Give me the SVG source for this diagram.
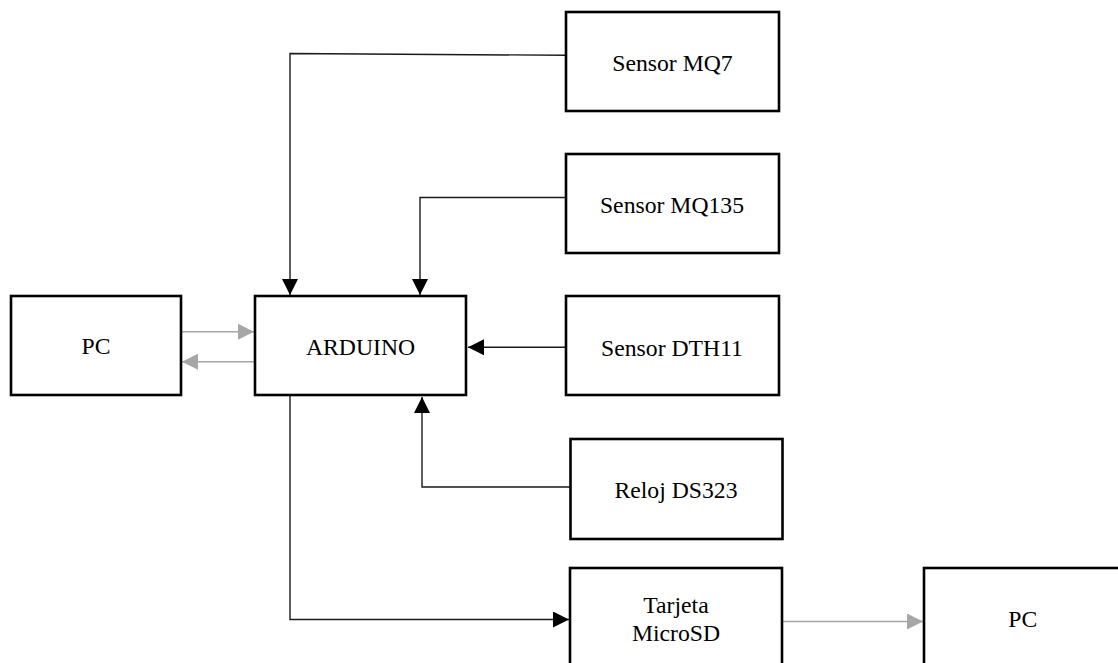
<svg xmlns="http://www.w3.org/2000/svg" width="1118" height="663" viewBox="0 0 1118 663">
<style>
.box{fill:#fff;stroke:#000;stroke-width:2.6}
.lbl{font-family:'Liberation Serif','DejaVu Serif',serif;font-size:23.7px;fill:#000;text-anchor:middle}
.c{fill:none;stroke:#1a1a1a;stroke-width:1.4}
.g{fill:none;stroke:#a6a6a6;stroke-width:1.6}
</style>
<defs>
<marker id="ab" markerUnits="userSpaceOnUse" markerWidth="16" markerHeight="16" refX="16" refY="8" orient="auto"><path d="M0,0 L16,8 L0,16 Z" fill="#000"/></marker>
<marker id="ag" markerUnits="userSpaceOnUse" markerWidth="16" markerHeight="16" refX="16" refY="8" orient="auto"><path d="M0,0 L16,8 L0,16 Z" fill="#a6a6a6"/></marker>
</defs>
<rect width="1118" height="663" fill="#fff"/>
<g id="connectors">
<polyline class="c" points="566,55.3 290,53.5 290,295" marker-end="url(#ab)"/>
<polyline class="c" points="566,197.5 420,197.5 420,295" marker-end="url(#ab)"/>
<polyline class="c" points="566,347.3 468,347.3" marker-end="url(#ab)"/>
<polyline class="c" points="570,487 422,487 422,397" marker-end="url(#ab)"/>
<polyline class="c" points="290,396 290,619.5 569,619.5" marker-end="url(#ab)"/>
<polyline class="g" points="783,621.5 923,621.5" marker-end="url(#ag)"/>
<polyline class="g" points="182,331.7 254,331.7" marker-end="url(#ag)"/>
<polyline class="g" points="254,361.7 182,361.7" marker-end="url(#ag)"/>
</g>
<g id="pc-left"><rect class="box" x="11" y="296" width="170" height="99"/><text class="lbl" font-family="Liberation Serif, serif" x="96" y="354">PC</text></g>
<g id="arduino"><rect class="box" x="255" y="296" width="211" height="99"/><text class="lbl" font-family="Liberation Serif, serif" x="360.5" y="355">ARDUINO</text></g>
<g id="mq7"><rect class="box" x="566" y="12" width="213" height="99"/><text class="lbl" font-family="Liberation Serif, serif" x="672.5" y="71">Sensor MQ7</text></g>
<g id="mq135"><rect class="box" x="566" y="154" width="213" height="99"/><text class="lbl" font-family="Liberation Serif, serif" x="672" y="213.3">Sensor MQ135</text></g>
<g id="dth11"><rect class="box" x="566" y="296" width="213" height="99"/><text class="lbl" font-family="Liberation Serif, serif" x="672" y="356">Sensor DTH11</text></g>
<g id="reloj"><rect class="box" x="570.5" y="439" width="212" height="100"/><text class="lbl" font-family="Liberation Serif, serif" x="676" y="498.3">Reloj DS323</text></g>
<g id="microsd"><rect class="box" x="570" y="568" width="212" height="110"/><text class="lbl" font-family="Liberation Serif, serif" x="676" y="613.3">Tarjeta</text><text class="lbl" font-family="Liberation Serif, serif" x="676" y="640.7">MicroSD</text></g>
<g id="pc-right"><rect class="box" x="924" y="568" width="210" height="110"/><text class="lbl" font-family="Liberation Serif, serif" x="1022.7" y="626.7">PC</text></g>
</svg>
